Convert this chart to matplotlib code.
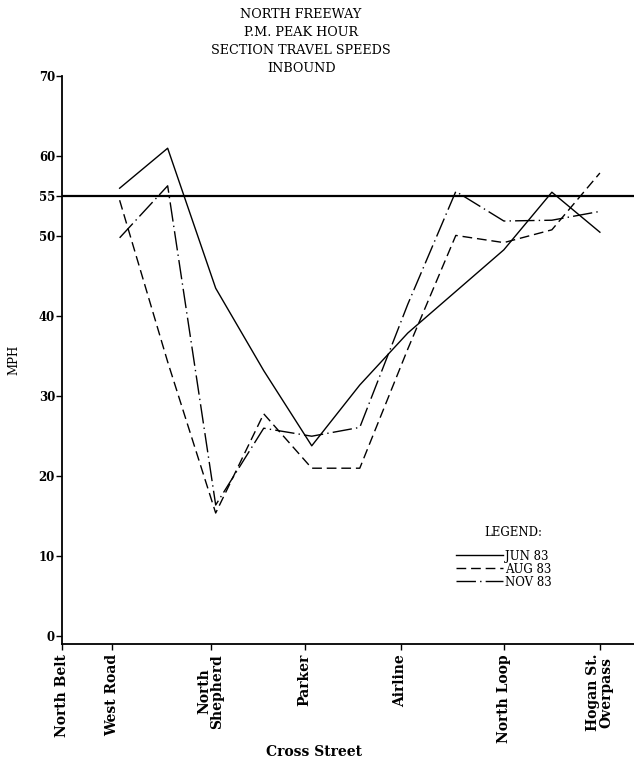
import numpy as np
import matplotlib.pyplot as plt

# cross streets along the freeway and their positions on the section axis
streets = ["North Belt", "West Road", "North\nShepherd", "Parker", "Airline",
           "North Loop", "Hogan St.\nOverpass"]
street_pos = [-1.2, -0.15, 1.9, 3.85, 5.85, 8.0, 10.0]

# section speed readings (mph), one every half section from West Road on
section_pos = [0, 1, 2, 3, 4, 5, 6, 7, 8, 9, 10]
jun83 = [56.0, 61.0, 43.5, 33.2, 23.8, 31.4, 37.9, 43.1, 48.3, 55.5, 50.5]
aug83 = [54.5, 34.3, 15.4, 27.8, 21.0, 21.0, 35.9, 50.1, 49.2, 50.8, 57.9]
nov83 = [49.8, 56.3, 16.4, 26.0, 25.0, 26.1, 41.5, 55.6, 51.9, 52.0, 53.1]

speed_limit = 55
yticks = [0, 10, 20, 30, 40, 50, 55, 60, 70]

fig = plt.figure(figsize=(6.34, 7.66), dpi=100)
ax = fig.add_axes([62 / 634, 0.159, (634 - 62) / 634, 0.7415])

ax.plot(section_pos, jun83, color="black", lw=1.0, ls="-", label="JUN 83")
ax.plot(section_pos, aug83, color="black", lw=1.0, ls=(0, (7, 3.5)), label="AUG 83")
ax.plot(section_pos, nov83, color="black", lw=1.0, ls=(0, (14, 3, 1, 3)), label="NOV 83")
ax.axhline(speed_limit, color="black", lw=1.6)

ax.set_xlim(-1.2, 10.71)
ax.set_ylim(-1, 70)

for side in ["top", "right"]:
    ax.spines[side].set_visible(False)
ax.spines["left"].set_linewidth(1.3)
ax.spines["bottom"].set_linewidth(1.3)

ax.set_yticks(yticks)
ax.set_yticklabels([str(v) for v in yticks], family="DejaVu Serif",
                   fontweight="bold", fontsize=8.5)
ax.set_xticks(street_pos)
ax.set_xticklabels(streets, rotation=90, family="DejaVu Serif",
                   fontweight="bold", fontsize=10, linespacing=0.95,
                   ha="center", va="top")
ax.tick_params(axis="y", length=4, width=1, pad=1)
ax.tick_params(axis="x", length=4, width=1, pad=3)

ax.set_ylabel("MPH", family="DejaVu Serif", fontsize=8.5, labelpad=13)
ax.set_xlabel("Cross Street", family="DejaVu Serif", fontweight="bold",
              fontsize=10, va="center")
ax.xaxis.set_label_coords(0.44, -0.19)

title_lines = ["NORTH FREEWAY", "P.M. PEAK HOUR", "SECTION TRAVEL SPEEDS", "INBOUND"]
for k, line in enumerate(title_lines):
    fig.text(0.475, 1 - (15 + 17.7 * k) / 766, line, family="DejaVu Serif",
             fontsize=9.2, ha="center", va="center")

fig.text(513 / 634, 1 - 532 / 766, "LEGEND:", family="DejaVu Serif",
         fontsize=8.5, ha="center", va="center")
leg = ax.legend(loc="upper left", bbox_to_anchor=(0.678, 0.177), frameon=False,
                prop={"family": "DejaVu Serif", "size": 8.5},
                handlelength=4.0, handletextpad=0.2, labelspacing=0.0,
                borderpad=0)

fig.savefig("out.png", dpi=100, facecolor="white")
